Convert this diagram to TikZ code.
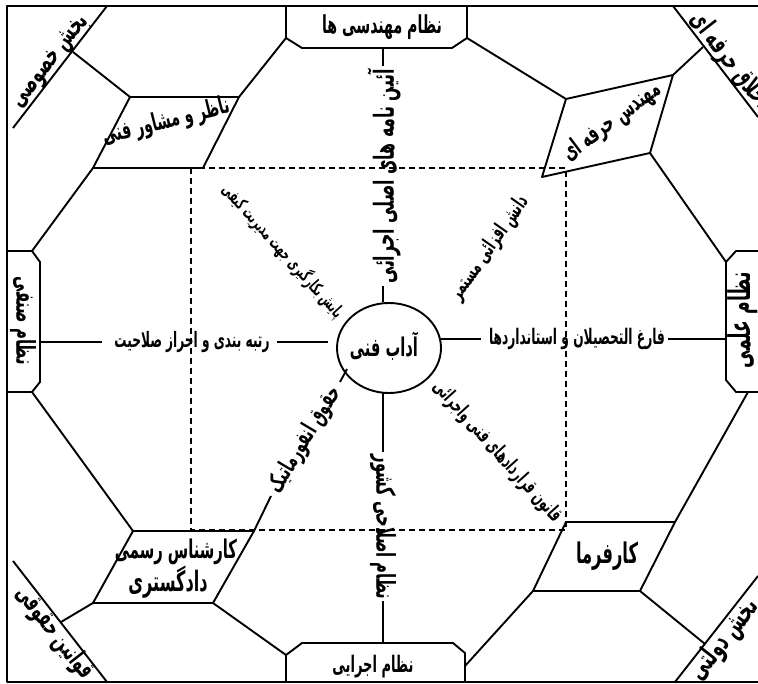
\documentclass[tikz,border=0pt]{standalone}
\usepackage{fontspec}
\usepackage{graphicx}
\TeXXeTstate=1
\newfontfamily\fa[Script=Arabic]{DejaVu Sans}
\usetikzlibrary{shapes.geometric}
\newcommand{\fw}[2]{\resizebox{#1pt}{!}{\scalebox{1}[1.75]{\fa\bfseries #2}}}
\begin{document}
\begin{tikzpicture}[x=1pt,y=-1pt,line join=round,
  ln/.style={line width=1.9pt},
  dsh/.style={line width=1.4pt,dash pattern=on 6pt off 4pt},
  lbl/.style={inner sep=0pt,outer sep=0pt}]
\useasboundingbox (0,0) rectangle (758,684);
% frame
\draw[ln] (758,6) -- (7,6) -- (7,682) -- (758,682);
% dashed rectangle
\draw[dsh] (191,168) rectangle (566,530);
% corner points
\coordinate (T1) at (286,38); \coordinate (T2) at (467,38);
\coordinate (B1) at (286,655); \coordinate (B2) at (465,666);
\coordinate (L1) at (32,251); \coordinate (L2) at (32,392);
\coordinate (R1) at (726,262); \coordinate (R2) at (748,392);
\coordinate (a1) at (130,97); \coordinate (a2) at (239,97); \coordinate (a3) at (203,168); \coordinate (a4) at (93,168);
\coordinate (b1) at (566,99); \coordinate (b2) at (673,75); \coordinate (b3) at (650,153); \coordinate (b4) at (542,177);
\coordinate (c1) at (133,531); \coordinate (c2) at (254,531); \coordinate (c3) at (213,603); \coordinate (c4) at (93,603);
\coordinate (d1) at (566,522); \coordinate (d2) at (675,522); \coordinate (d3) at (640,591); \coordinate (d4) at (533,591);
% corner diagonals
\coordinate (k1) at (107,6); \coordinate (k2) at (13,128);
\coordinate (h1) at (673,6); \coordinate (h2) at (758,117);
\coordinate (q1) at (13,561); \coordinate (q2) at (107,682);
\coordinate (g1) at (758,576); \coordinate (g2) at (675,682);
\draw[ln] (k1) -- (k2);
\draw[ln] (h1) -- (h2);
\draw[ln] (q1) -- (q2);
\draw[ln] (g1) -- (g2);
% boxes
\draw[ln] (286,6) -- (T1) -- (302,48) -- (452,48) -- (T2) -- (467,6);
\draw[ln] (286,682) -- (B1) -- (302,643) -- (453,643) -- (465,653) -- (465,682);
\draw[ln] (7,251) -- (L1) -- (40,262) -- (40,382) -- (L2) -- (7,392);
\draw[ln] (758,251) -- (736,251) -- (R1) -- (726,380) -- (736,392) -- (758,392);
% parallelograms
\draw[ln] (a1) -- (a2) -- (a3) -- (a4) -- cycle;
\draw[ln] (b1) -- (b2) -- (b3) -- (b4) -- cycle;
\draw[ln] (c1) -- (c2) -- (c3) -- (c4) -- cycle;
\draw[ln] (d1) -- (d2) -- (d3) -- (d4) -- cycle;
% octagon edges
\draw[ln] (T1) -- (a2);
\draw[ln] (a1) -- (73,52);
\draw[ln] (a4) -- (L1);
\draw[ln] (L2) -- (c1);
\draw[ln] (c4) -- (61,622);
\draw[ln] (c3) -- (B1);
\draw[ln] (B2) -- (d4);
\draw[ln] (d3) -- (705,644);
\draw[ln] (d2) -- (R2);
\draw[ln] (R1) -- (b3);
\draw[ln] (b2) -- (703,47);
\draw[ln] (b1) -- (T2);
% box labels
\node[lbl] (tb) at (382,27) {\fw{120}{\beginR نظام مهندسی ها\endR}};
\node[lbl] (bb) at (373,667) {\fw{81}{\beginR نظام اجرایی\endR}};
\node[lbl,rotate=-90] (lb) at (23,321) {\fw{88}{\beginR نظام صنفی\endR}};
\node[lbl,rotate=90] (rb) at (743,320) {\fw{96}{\beginR نظام علمی\endR}};
\node[lbl,rotate=14] (pa) at (166,122) {\fw{130}{\beginR ناظر و مشاور فنی\endR}};
\node[lbl,rotate=37] (pb) at (612,122) {\fw{116}{\beginR مهندس حرفه ای\endR}};
\node[lbl] (pc1) at (176,552) {\fw{122}{\beginR کارشناس رسمی\endR}};
\node[lbl] (pc2) at (168,582) {\fw{79}{\beginR دادگستری\endR}};
\node[lbl] (pd) at (607,556) {\fw{62}{\beginR کارفرما\endR}};
% corner labels
\node[lbl,rotate=52,anchor=south] (kk) at (60,69) {\fw{110}{\beginR بخش خصوصی\endR}};
\node[lbl,rotate=-52,anchor=south] (hh) at (719,69) {\fw{114}{\beginR اخلاق حرفه ای\endR}};
\node[lbl,rotate=-52,anchor=north] (qq) at (65,625) {\fw{110}{\beginR قوانین حقوقی\endR}};
\node[lbl,rotate=52,anchor=north] (gg) at (713,631) {\fw{95}{\beginR بخش دولتی\endR}};
% centre
\node[draw,ln,ellipse,minimum width=104pt,minimum height=90pt,inner sep=0pt] (c) at (389,348) {};
\node[lbl] (ct) at (384,346) {\fw{68}{\beginR آداب فنی\endR}};
% radial labels
\node[lbl,rotate=90] (r1) at (384,176) {\fw{214}{\beginR آئین نامه های اصلی اجرائی\endR}};
\node[lbl,rotate=-90] (r2) at (383,527) {\fw{145}{\beginR نظام اصلاحی کشور\endR}};
\node[lbl] (r3) at (192,342) {\fw{155}{\beginR رتبه بندی و احراز صلاحیت\endR}};
\node[lbl] (r4) at (577,339) {\fw{176}{\beginR فارغ التحصیلان و استانداردها\endR}};
\node[lbl,rotate=-48] (r5) at (283,251) {\fw{172}{\beginR پایش بکارگیری جهت مدیریت کیفی\endR}};
\node[lbl,rotate=55] (r6) at (490,248) {\fw{122}{\beginR دانش افزائی مستمر\endR}};
\node[lbl,rotate=59] (r7) at (305,440) {\fw{120}{\beginR حقوق انفورماتیک\endR}};
\node[lbl,rotate=-48] (r8) at (497,452) {\fw{182}{\beginR قانون قراردادهای فنی واجرائی\endR}};
% radial connectors
\draw[ln] (383,48) -- (383,66);
\draw[ln] (383,286) -- (383,302);
\draw[ln] (383,392) -- (383,452);
\draw[ln] (383,601) -- (383,643);
\draw[ln] (40,342) -- (102,342);
\draw[ln] (277,342) -- (328,342);
\draw[ln] (441,339) -- (481,339);
\draw[ln] (668,339) -- (726,339);
\draw[ln] (347,369) -- (340,382);
\draw[ln] (271,496) -- (c2);
\end{tikzpicture}
\end{document}
